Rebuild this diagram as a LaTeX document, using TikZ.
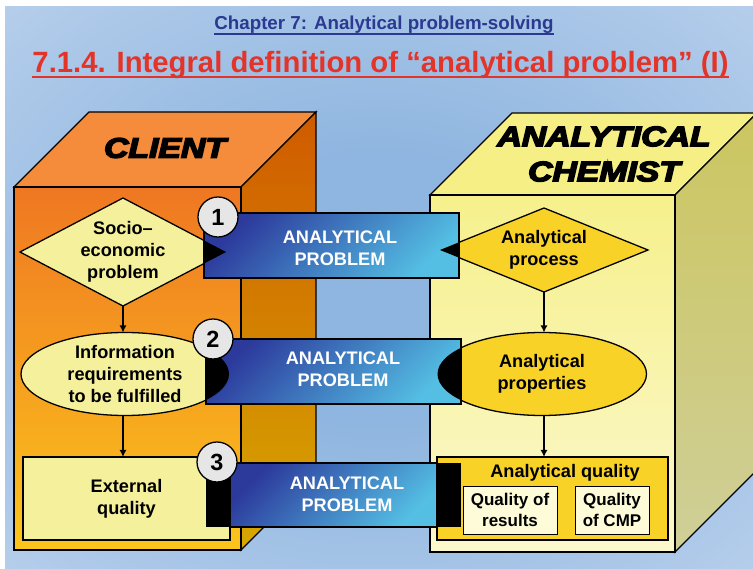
\documentclass[tikz,border=0pt]{standalone}
\usepackage{fontspec}
\setmainfont{Liberation Sans}
\usepackage{graphicx}
\usepackage{tikz}
\usetikzlibrary{shapes.geometric,arrows.meta,positioning}
\usepackage{xcolor}

\definecolor{bgblue}{HTML}{8FB6E0}
\definecolor{bgmid}{HTML}{B9D0EC}
\definecolor{bgpink}{HTML}{F3E8F5}
\definecolor{chapblue}{HTML}{2B3990}
\definecolor{titlered}{HTML}{E3342A}
\definecolor{clienttop}{HTML}{F48C3C}
\definecolor{clientfrontA}{HTML}{EF7722}
\definecolor{clientfrontB}{HTML}{FBC51C}
\definecolor{clientsideA}{HTML}{D05A00}
\definecolor{clientsideB}{HTML}{D6A800}
\definecolor{chemtop}{HTML}{F5EF85}
\definecolor{chemfrontA}{HTML}{F6F08C}
\definecolor{chemfrontB}{HTML}{FBF8CC}
\definecolor{chemsideA}{HTML}{CCC660}
\definecolor{chemsideB}{HTML}{CFCF98}
\definecolor{paleyel}{HTML}{F5F09C}
\definecolor{goldyel}{HTML}{F9D227}
\definecolor{cream}{HTML}{FDFBD8}
\definecolor{bandark}{HTML}{2C3A9C}
\definecolor{banlight}{HTML}{54BEE3}
\definecolor{circgray}{HTML}{E6E6E6}

\pgfdeclareradialshading{bgshade}{\pgfpoint{0bp}{0bp}}{color(0bp)=(bgblue); color(12bp)=(bgblue); color(38bp)=(bgmid); color(71bp)=(bgpink)}

% wide, stroked heading letters
\newcommand{\widen}[1]{\scalebox{1.2}[1]{\special{pdf:literal 2 Tr 1.2 w}#1\special{pdf:literal 0 Tr}}}

\begin{document}
\begin{tikzpicture}[x=0.03cm,y=-0.03cm,
  txt/.style={font=\fontsize{15.5}{19}\selectfont\bfseries,align=center},
  pale/.style={draw,line width=1.1pt,fill=paleyel,inner sep=0pt,outer sep=0pt,txt},
  gold/.style={draw,line width=1.1pt,fill=goldyel,inner sep=0pt,outer sep=0pt,txt},
  inbox/.style={draw,line width=0.8pt,fill=cream,inner sep=0pt,outer sep=0pt,
                align=center,font=\fontsize{14.5}{18}\selectfont\bfseries},
  ddiamond/.style={diamond,aspect=1.9},
  banner/.style={draw,line width=1.1pt,top color=bandark,bottom color=banlight,
                 shading angle=45,inner sep=0pt,outer sep=0pt,minimum height=1.95cm},
  bantext/.style={txt,text=white},
  numcirc/.style={circle,draw,line width=1.1pt,fill=circgray,minimum size=1.2cm,
                  inner sep=0pt,font=\fontsize{20}{20}\selectfont\bfseries},
  head/.style={font=\fontsize{24}{30}\selectfont\bfseries\itshape,align=center},
  face/.style={draw,line width=1.1pt},
  arr/.style={-{Latex[length=6pt,width=6pt]},line width=1.1pt}]
\clip (0,0) rectangle (753,569);
\fill[white] (0,0) rectangle (753,569);
\shade[shading=bgshade] (5,7) rectangle (753,569);

% titles
\node[font=\fontsize{16}{16}\selectfont\bfseries,text=chapblue,inner sep=0pt,anchor=base]
  (chap) at (384,30) {Chapter 7: Analytical problem-solving};
\draw[chapblue,line width=1pt] ([yshift=-3.4pt]chap.base west) -- ([yshift=-3.4pt]chap.base east);
\node[font=\fontsize{25}{25}\selectfont\bfseries,text=titlered,inner sep=0pt,anchor=base]
  (title) at (380.5,73) {7.1.4. Integral definition of “analytical problem” (I)};
\draw[titlered,line width=1.7pt] ([yshift=-3.4pt]title.base west) -- ([yshift=-3.4pt]title.base east);

% client block
\path[face,fill=clienttop] (14,187) -- (89,112) -- (316,112) -- (241,187) -- cycle;
\path[face,top color=clientsideA,bottom color=clientsideB] (241,187) -- (316,112) -- (316,475) -- (241,550) -- cycle;
\path[face,top color=clientfrontA,bottom color=clientfrontB] (14,187) rectangle (241,550);
\node[head] (client) at (165,148) {\widen{CLIENT}};

% chemist block
\path[face,fill=chemtop] (430,195) -- (512,113) -- (757,113) -- (675,195) -- cycle;
\path[face,top color=chemsideA,bottom color=chemsideB] (675,195) -- (757,113) -- (757,470) -- (675,552) -- cycle;
\path[face,top color=chemfrontA,bottom color=chemfrontB] (430,195) rectangle (675,552);
\node[head] (chemist) at (604,154) {\widen{ANALYTICAL}\\\widen{CHEMIST}};

% client side
\node[pale,ddiamond,minimum width=6.18cm,minimum height=3.24cm] (socio) at (123,252) {Socio--\\economic\\problem};
\node[pale,ellipse,minimum width=6.24cm,minimum height=2.49cm] (req) at (125,374) {Information\\requirements\\to be fulfilled};
\node[pale,minimum width=6.21cm,minimum height=2.49cm] (ext) at (126.5,498.5) {External\\quality};
\draw[arr] (socio.south) -- (socio.south |- req.north);
\draw[arr] (socio.south |- req.south) -- (socio.south |- ext.north);

% chemist side
\node[gold,ddiamond,aspect=2.5,minimum width=6.24cm,minimum height=2.52cm] (proc) at (544,250) {Analytical\\process};
\node[gold,ellipse,minimum width=6.27cm,minimum height=2.49cm] (prop) at (542,374) {Analytical\\properties};
\node[gold,minimum width=6.93cm,minimum height=2.49cm] (aq) at (552.5,498.5) {};
\node[txt] (aqt) at (565,473) {Analytical quality};
\node[inbox,minimum width=2.82cm,minimum height=1.44cm] (qres) at (510,510) {Quality of\\results};
\node[inbox,minimum width=2.22cm,minimum height=1.44cm] (qcmp) at (612,510) {Quality\\of CMP};
\draw[arr] (proc.south) -- (proc.south |- prop.north);
\draw[arr] (proc.south |- prop.south) -- (proc.south |- aq.north);

% analytical problem banners
\node[banner,minimum width=7.65cm] (ban1) at (331.5,245.5) {};
\node[banner,minimum width=7.65cm] (ban2) at (333.5,371.5) {};
\node[banner,minimum width=6.21cm,minimum height=1.92cm] (ban3) at (333.5,495) {};
\begin{scope}
  \clip (ban1.north west) rectangle (ban1.south east);
  \fill (socio.north) -- (socio.east) -- (socio.south) -- (socio.west) -- cycle;
  \fill (proc.north) -- (proc.east) -- (proc.south) -- (proc.west) -- cycle;
\end{scope}
\begin{scope}
  \clip (ban2.north west) rectangle (ban2.south east);
  \fill (req.center) ellipse [x radius=3.12cm, y radius=1.245cm];
  \fill (prop.center) ellipse [x radius=3.135cm, y radius=1.245cm];
\end{scope}
\fill (ban3.north west) rectangle ([xshift=-0.72cm]ban3.south west);
\fill (ban3.north east) rectangle ([xshift=0.72cm]ban3.south east);
\node[bantext] (b1t) at (340,248) {ANALYTICAL\\PROBLEM};
\node[bantext] (b2t) at (343,369) {ANALYTICAL\\PROBLEM};
\node[bantext] (b3t) at (347,494) {ANALYTICAL\\PROBLEM};

% step numbers
\node[numcirc] (n1) at (218,217) {1};
\node[numcirc] (n2) at (213,339) {2};
\node[numcirc] (n3) at (217,462) {3};
\end{tikzpicture}
\end{document}
